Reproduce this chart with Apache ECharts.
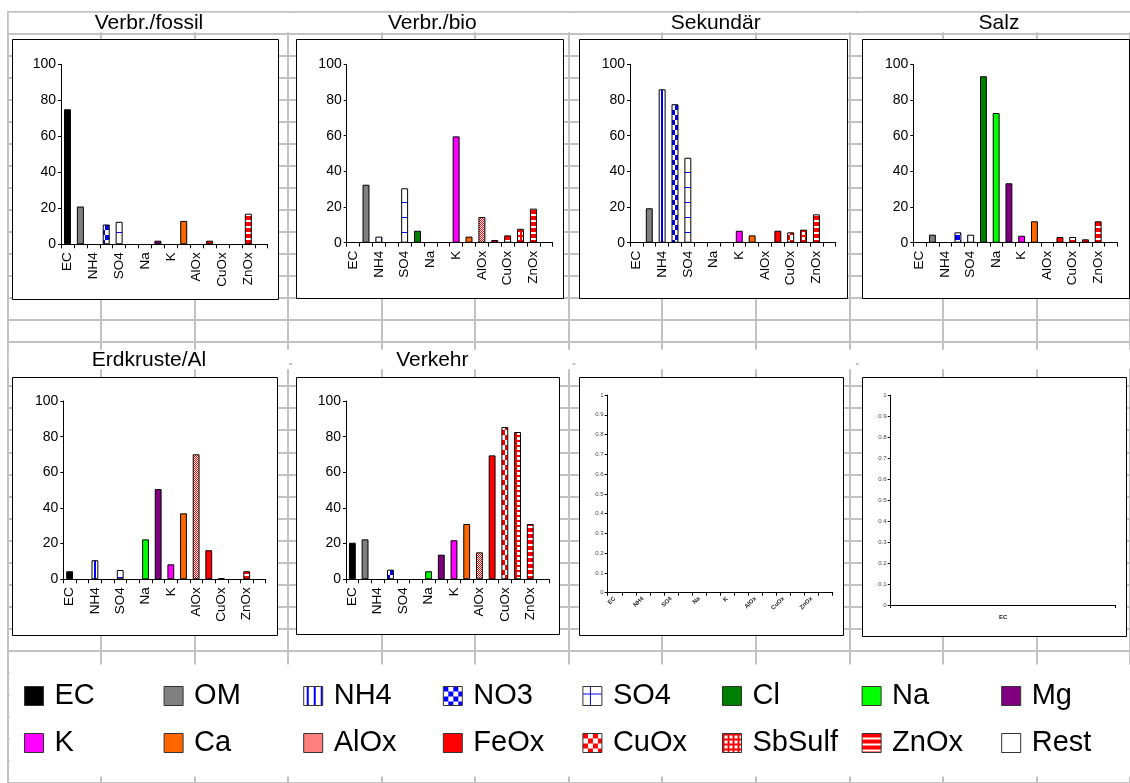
<!DOCTYPE html>
<html>
<head>
<meta charset="utf-8">
<script src="https://cdn.jsdelivr.net/npm/echarts@6/dist/echarts.min.js"></script>
<style>
  html, body { margin: 0; padding: 0; background: #fff; }
  #chart { width: 1130px; height: 783px; }
</style>
</head>
<body>
<div id="chart"></div>
<script>
// Aerosol components, one bar slot each
const components = ['EC', 'OM', 'NH4', 'NO3', 'SO4', 'Cl', 'Na', 'Mg', 'K', 'Ca', 'AlOx', 'FeOx', 'CuOx', 'SbSulf', 'ZnOx', 'Rest'];

// Source profiles (share in %), in the order of `components`
const verbrFossil = [75, 21, 0, 11, 12.5, 0, 0, 2, 0, 13, 0, 2, 0, 0, 17, 0];
const verbrBio    = [0, 32.5, 3.4, 0, 30.5, 6.7, 0, 0, 59.6, 3.4, 14.4, 1.5, 4.1, 7.8, 19.1, 0];
const sekundaer   = [0, 19.3, 86, 77.6, 47.6, 0, 0, 0, 6.7, 4.1, 0, 6.7, 5.8, 7.3, 15.9, 0];
const salz        = [0, 4.5, 0, 5.8, 4.5, 93.3, 72.7, 33.3, 3.9, 12, 0, 3.2, 3.2, 1.9, 12, 0];
const erdkruste   = [4.5, 0, 10.7, 0, 5.2, 0, 22.4, 50.6, 8.4, 37, 70.1, 16.3, 0.6, 0, 4.5, 0];
const verkehr     = [20.5, 22.4, 0, 5.4, 0, 0, 4.5, 13.8, 21.9, 31, 15.1, 69.5, 85.4, 82.6, 31, 0];

const panelTitles = ['Verbr./fossil', 'Verbr./bio', 'Sekundär', 'Salz', 'Erdkruste/Al', 'Verkehr', '', ''];
const panelData = [verbrFossil, verbrBio, sekundaer, salz, erdkruste, verkehr];

// Tick labels
const shareTicks = [0, 20, 40, 60, 80, 100];
const unitTicks = [0, 0.1, 0.2, 0.3, 0.4, 0.5, 0.6, 0.7, 0.8, 0.9, 1];
const emptyCats = ['EC'];

// ---- fills (solid colours and small repeating tiles) ----
function tile(w, h, paint) {
  const c = document.createElement('canvas');
  c.width = w; c.height = h;
  const g = c.getContext('2d');
  g.fillStyle = '#ffffff';
  g.fillRect(0, 0, w, h);
  paint(g);
  return { image: c, repeat: 'repeat' };
}
const BLUE = '#0000ff', RED = '#ff0000';
const fills = {
  EC: '#000000',
  OM: '#808080',
  NH4: tile(7, 4, g => { g.fillStyle = BLUE; g.fillRect(3, 0, 2, 4); }),
  NO3: tile(10, 10, g => { g.fillStyle = BLUE; g.fillRect(0, 0, 5, 5); g.fillRect(5, 5, 5, 5); }),
  SO4: tile(15, 15, g => { g.fillStyle = BLUE; g.fillRect(0, 7, 15, 1); g.fillRect(7, 0, 1, 15); }),
  Cl: '#008000',
  Na: '#00ff00',
  Mg: '#800080',
  K: '#ff00ff',
  Ca: '#ff6600',
  AlOx: tile(2, 2, g => { g.fillStyle = RED; g.fillRect(0, 0, 1, 1); g.fillRect(1, 1, 1, 1); }),
  FeOx: RED,
  CuOx: tile(10, 10, g => { g.fillStyle = RED; g.fillRect(0, 0, 5, 5); g.fillRect(5, 5, 5, 5); }),
  SbSulf: tile(5, 5, g => { g.fillStyle = RED; g.fillRect(0, 0, 5, 2); g.fillRect(0, 0, 2, 5); }),
  ZnOx: tile(6, 6, g => { g.fillStyle = RED; g.fillRect(0, 0, 6, 4); }),
  Rest: '#ffffff'
};

// ---- sheet layout ----
const COL0 = 7.3, COLW = 94.45, ROW0 = 11.3, ROWH = 22.46;
const FONT = 'Liberation Sans, Arial, sans-serif';

// plot areas: [left, top, width, height]
const plotAreas = [
  [61, 64.3, 206.7, 180],
  [346.7, 64.3, 206, 178.4],
  [630, 64.3, 205.7, 178.4],
  [913.3, 64.3, 204, 178.4],
  [63.3, 401, 202.4, 178.3],
  [346, 401, 203.3, 178.3],
  [607.7, 395, 225, 197.7],
  [890.7, 395.3, 225, 209.7]
];
// chart frames: [x1, y1, x2, y2]
const frames = [
  [12, 39, 278, 299], [296, 39, 563, 298], [579, 39, 847, 298], [862, 39, 1129, 298],
  [12, 377, 277, 635], [296, 377, 559, 634], [579, 377, 843, 635], [862, 377, 1126, 636]
];

const grid = [], xAxis = [], yAxis = [];
plotAreas.forEach((a, p) => {
  grid.push({ left: a[0], top: a[1], width: a[2], height: a[3], containLabel: false });
  const small = p >= 6;
  xAxis.push({
    gridIndex: p, type: 'category', z: 3,
    data: p === 7 ? emptyCats : components,
    boundaryGap: true,
    axisLine: { show: true, onZero: false, lineStyle: { color: '#000', width: 1 } },
    axisTick: { show: true, interval: 0, alignWithLabel: false, length: small ? 3 : 4, lineStyle: { color: '#000' } },
    axisLabel: small
      ? { interval: 1, rotate: p === 7 ? 0 : 45, fontSize: 6, fontWeight: 'bold', color: '#222', margin: p === 7 ? 9 : 5, fontFamily: FONT }
      : { interval: 1, rotate: 90, fontSize: 13.5, color: '#000', margin: 8, fontFamily: FONT },
    splitLine: { show: false }
  });
  const ticks = small ? unitTicks : shareTicks;
  yAxis.push({
    gridIndex: p, type: 'value', z: 3,
    min: ticks[0], max: ticks[ticks.length - 1], interval: ticks[1] - ticks[0],
    axisLine: { show: true, lineStyle: { color: '#000', width: 1 } },
    axisTick: { show: true, length: 3, lineStyle: { color: '#000' } },
    axisLabel: small
      ? { fontSize: 6, color: '#444', margin: 4, fontFamily: FONT }
      : { fontSize: 14, color: '#000', margin: 5, fontFamily: FONT },
    splitLine: { show: false }
  });
});

// spreadsheet cell lines behind everything
grid.push({ left: COL0, top: ROW0, width: COLW * 12, height: ROWH * 35 });
xAxis.push({
  gridIndex: 8, type: 'value', min: 0, max: 12, interval: 1, z: 0,
  axisLine: { show: false }, axisTick: { show: false }, axisLabel: { show: false },
  splitLine: { show: true, showMinLine: true, showMaxLine: true, lineStyle: { color: '#c2c2c2', width: 2 } }
});
yAxis.push({
  gridIndex: 8, type: 'value', min: 0, max: 35, interval: 1, inverse: true, z: 0,
  axisLine: { show: false }, axisTick: { show: false }, axisLabel: { show: false },
  splitLine: { show: true, showMinLine: true, showMaxLine: true, lineStyle: { color: '#c2c2c2', width: 2 } }
});

// bars: one series per component in each panel, overlapping in their slot
const series = [];
panelData.forEach((vals, p) => {
  components.forEach((name, k) => {
    series.push({
      type: 'bar', name: name, xAxisIndex: p, yAxisIndex: p, z: 4,
      barWidth: '54%', barGap: '-100%',
      data: vals.map((v, i) => (i === k && v > 0) ? v : '-'),
      itemStyle: { color: fills[name], borderColor: '#000', borderWidth: 1 },
      emphasis: { disabled: true }, silent: true
    });
  });
});

// graphic decoration: merged title cells, titles, chart frames, legend area
const graphic = [];
[0, 15].forEach((r, ri) => {
  [0, 3, 6, 9].forEach((c, ci) => {
    const x = COL0 + c * COLW, y = ROW0 + r * ROWH;
    graphic.push({
      type: 'rect', z: 1, silent: true,
      shape: { x: x + 1.5, y: y + 1.5, width: 3 * COLW - 3, height: ROWH - 3 },
      style: { fill: '#ffffff' }
    });
    const t = panelTitles[ri * 4 + ci];
    if (t) {
      graphic.push({
        type: 'text', z: 2, silent: true,
        x: x + 1.5 * COLW, y: y + ROWH / 2 + 0.5,
        style: { text: t, font: '21px ' + FONT, fill: '#000', align: 'center', verticalAlign: 'middle' }
      });
    }
  });
});
frames.forEach(f => {
  graphic.push({
    type: 'rect', z: 1, silent: true,
    shape: { x: f[0] + 0.5, y: f[1] + 0.5, width: f[2] - f[0], height: f[3] - f[1] },
    style: { fill: '#ffffff', stroke: '#000', lineWidth: 1 }
  });
});
graphic.push({
  type: 'rect', z: 1, silent: true,
  shape: { x: 9.5, y: 664.5, width: 1130, height: 112 },
  style: { fill: '#ffffff' }
});

// legend: 2 rows x 8 columns
const LEG_X0 = 24, LEG_DX = 139.6, LEG_Y0 = 681, LEG_DY = 47;
const legend = components.map((name, i) => ({
  data: [name], z: 5,
  left: LEG_X0 + (i % 8) * LEG_DX, top: LEG_Y0 + Math.floor(i / 8) * LEG_DY,
  padding: 0, itemWidth: 19, itemHeight: 19, icon: 'rect', selectedMode: false,
  itemStyle: { borderColor: '#333', borderWidth: 1 },
  textStyle: { fontSize: 29, fontFamily: FONT, color: '#000', lineHeight: 30, padding: [0, 0, 0, 6] }
}));

const chart = echarts.init(document.getElementById('chart'), null, { renderer: 'canvas' });
chart.setOption({
  animation: false,
  backgroundColor: '#ffffff',
  grid, xAxis, yAxis, series, legend, graphic
});
</script>
</body>
</html>
